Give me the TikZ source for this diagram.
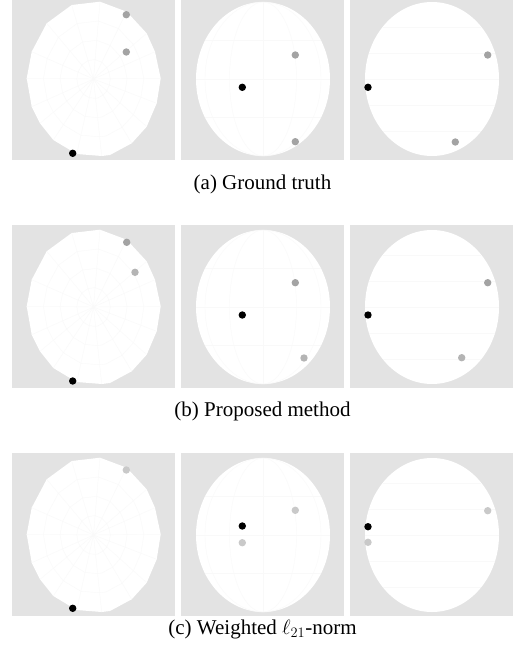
\documentclass[tikz,border=0pt]{standalone}
\usepackage{fontspec}
\setmainfont{Liberation Serif}
\definecolor{panelbg}{HTML}{E3E3E3}
\definecolor{gridln}{HTML}{F9F9F9}
\definecolor{dotgrey}{HTML}{A3A3A3}
\definecolor{dotmid}{HTML}{B4B4B4}
\definecolor{dotlight}{HTML}{C9C9C9}
\begin{document}
\begin{tikzpicture}[x=1pt,y=-1pt,
  panel/.style={fill=panelbg},
  sphere/.style={fill=white},
  gridline/.style={draw=gridln,line width=0.4pt},
  dotb/.style={fill=black},
  dotg/.style={fill=dotgrey},
  dotm/.style={fill=dotmid},
  dotl/.style={fill=dotlight},
  caption/.style={font=\fontsize{21}{25}\selectfont,anchor=base,inner sep=0pt}]
\useasboundingbox (0,0) rectangle (515,653);
\def\polyA{(71.7,5) -- (100,1.7) -- (126.7,11.7) -- (146.7,33.3) -- (155,51.7) -- (160.7,78.3) -- (156.7,103.3) -- (146.7,126.7) -- (131.7,143.3) -- (110,155) -- (101.7,156) -- (76.7,154) -- (53.3,140) -- (40,123.3) -- (31.7,106.7) -- (26.7,78.3) -- (31.7,51.7) -- (46.7,23.3) -- cycle}
\foreach \r in {0,228,456} {
  \begin{scope}[shift={(0,\r)}]
    \fill[panel] (12,-3) rectangle (175,160);
    \fill[panel] (181,-3) rectangle (344,160);
    \fill[panel] (350,-3) rectangle (513,160);
    % panel 1: polygonal sphere seen from the pole
    \fill[sphere] \polyA;
    \foreach \s in {0.25,0.5,0.75} {
      \draw[gridline] [shift={(93.5,79)},scale=\s,shift={(-93.5,-79)}] \polyA;
    }
    \foreach \p in {(71.7,5),(100,1.7),(126.7,11.7),(146.7,33.3),(155,51.7),(160.7,78.3),(156.7,103.3),(146.7,126.7),(131.7,143.3),(101.7,156),(76.7,154),(53.3,140),(40,123.3),(31.7,106.7),(26.7,78.3),(31.7,51.7),(46.7,23.3)} {
      \draw[gridline] (93.5,79) -- \p;
    }
    % panel 2: sphere with meridians
    \fill[sphere] (263,79) ellipse [x radius=67,y radius=77];
    \draw[gridline] (263,2) -- (263,156);
    \draw[gridline] (263,79) ellipse [x radius=33.5,y radius=77];
    \draw[gridline] (263,79) ellipse [x radius=58,y radius=77];
    \foreach \dy in {-38.5,0,38.5} {
      \draw[gridline] ({263-67*sqrt(1-(\dy/77)^2)},{79+\dy}) -- ({263+67*sqrt(1-(\dy/77)^2)},{79+\dy});
    }
    % panel 3: sphere with parallels
    \fill[sphere] (432,79) ellipse [x radius=67,y radius=77];
    \foreach \dy in {-52,-26,0,26,52} {
      \draw[gridline] ({432-67*sqrt(1-(\dy/77)^2)},{79+\dy}) -- ({432+67*sqrt(1-(\dy/77)^2)},{79+\dy});
    }
  \end{scope}
}
% row (a)
\fill[dotg] (126.3,14.7) circle (3.7);
\fill[dotg] (126.3,52) circle (3.7);
\fill[dotb] (72.7,153.3) circle (3.7);
\fill[dotg] (295.3,55) circle (3.7);
\fill[dotg] (295.3,141.7) circle (3.7);
\fill[dotb] (242.3,87.3) circle (3.7);
\fill[dotg] (487.7,55) circle (3.7);
\fill[dotg] (455.3,142) circle (3.7);
\fill[dotb] (368,87.3) circle (3.7);
% row (b)
\fill[dotg] (126.7,242.3) circle (3.7);
\fill[dotm] (135,272.3) circle (3.7);
\fill[dotb] (72.7,381) circle (3.7);
\fill[dotg] (295.3,282.7) circle (3.7);
\fill[dotm] (304,358) circle (3.7);
\fill[dotb] (242.3,315) circle (3.7);
\fill[dotg] (487.7,282.7) circle (3.7);
\fill[dotm] (461.7,357.7) circle (3.7);
\fill[dotb] (368,315) circle (3.7);
% row (c)
\fill[dotl] (126.3,470) circle (3.7);
\fill[dotb] (72.7,608.3) circle (3.7);
\fill[dotl] (295.3,510.3) circle (3.7);
\fill[dotb] (242.3,526) circle (3.7);
\fill[dotl] (242.3,542.7) circle (3.7);
\fill[dotl] (487.7,510.7) circle (3.7);
\fill[dotb] (368,526.7) circle (3.7);
\fill[dotl] (368,542.3) circle (3.7);
% captions
\node[caption] (capa) at (262.5,189) {(a) Ground truth};
\node[caption] (capb) at (262.5,416) {(b) Proposed method};
\node[caption] (capc) at (262.5,634) {(c) Weighted $\ell_{21}$-norm};
\end{tikzpicture}
\end{document}
